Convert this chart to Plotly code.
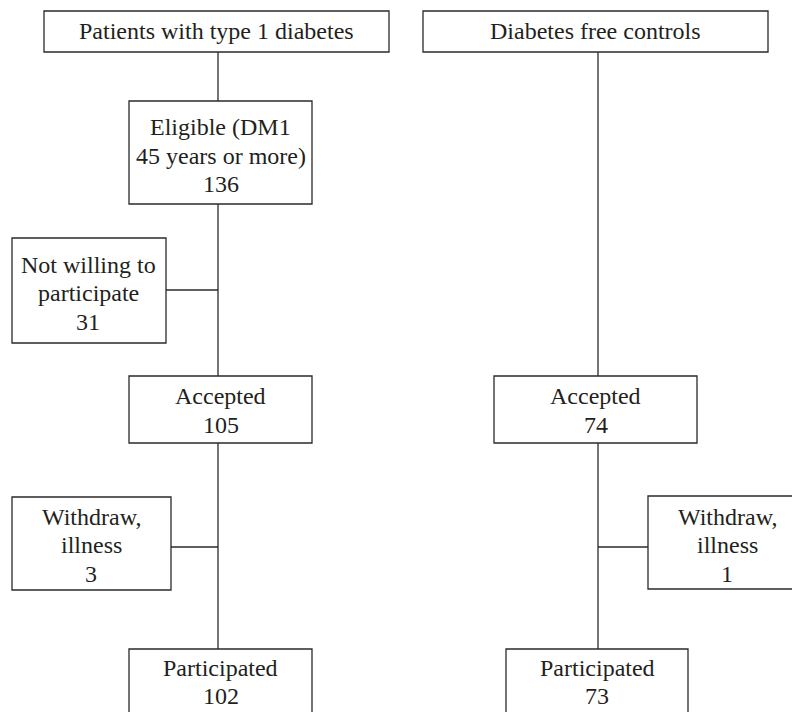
import plotly.graph_objects as go

# ---- data ----
node_ids = ["dm1", "ctrl", "eligible", "notwilling", "acc_dm1", "acc_ctrl",
            "wd_dm1", "wd_ctrl", "part_dm1", "part_ctrl"]
node_labels = ["Patients with type 1 diabetes", "Diabetes free controls",
               "Eligible (DM1<br>45 years or more)", "Not willing to<br>participate",
               "Accepted", "Accepted", "Withdraw,<br>illness", "Withdraw,<br>illness",
               "Participated", "Participated"]
node_counts = [None, None, 136, 31, 105, 74, 3, 1, 102, 73]

# ---- layout geometry (page pixel canvas 800x712; page body has an 8px margin) ----
W, H = 800, 712
OFF = 8
boxes = {  # x0, x1, y0, y1
    "dm1": (44, 389, 11, 52),
    "ctrl": (423, 768, 11, 52),
    "eligible": (129, 312, 101, 204),
    "notwilling": (12, 166, 238, 343),
    "acc_dm1": (129, 312, 376, 443),
    "acc_ctrl": (494, 697, 376, 443),
    "wd_dm1": (12, 171, 497, 590),
    "wd_ctrl": (648, 808, 496, 589),
    "part_dm1": (129, 312, 649, 760),
    "part_ctrl": (506, 688, 649, 760),
}
# text centre (x, first-line y)
text_pos = {
    "dm1": (216, 31),
    "ctrl": (595.5, 31),
    "eligible": (220.5, 127),
    "notwilling": (88, 264.5),
    "acc_dm1": (220.5, 396),
    "acc_ctrl": (595.5, 396),
    "wd_dm1": (91, 516.5),
    "wd_ctrl": (727, 516.5),
    "part_dm1": (220.5, 667.5),
    "part_ctrl": (597, 667.5),
}
line_gap = 28.5
connectors = [  # x0, y0, x1, y1
    (218, 52, 218, 101), (218, 204, 218, 376), (218, 443, 218, 649),
    (598, 52, 598, 376), (598, 443, 598, 649),
    (166, 290, 218, 290), (171, 547, 218, 547), (598, 547, 648, 547),
]
ink = "#2a2a2a"
font = dict(family="Liberation Serif, Times New Roman, serif", size=24, color="#231f20")

fig = go.Figure()
fig.add_trace(go.Scatter(x=[OFF, W], y=[OFF, H], mode="markers",
                         marker=dict(opacity=0), hoverinfo="skip", showlegend=False))

shapes = []
for nid in node_ids:
    x0, x1, y0, y1 = boxes[nid]
    shapes.append(dict(type="rect", xref="x", yref="y", x0=x0, x1=x1, y0=y0, y1=y1,
                       line=dict(color=ink, width=1.3), fillcolor="rgba(0,0,0,0)"))
for (x0, y0, x1, y1) in connectors:
    shapes.append(dict(type="line", xref="x", yref="y", x0=x0, y0=y0, x1=x1, y1=y1,
                       line=dict(color=ink, width=1.3)))

annotations = []
for nid, lab, cnt in zip(node_ids, node_labels, node_counts):
    lines = lab.split("<br>")
    if cnt is not None:
        lines.append(str(cnt))
    cx, cy = text_pos[nid]
    for i, ln in enumerate(lines):
        annotations.append(dict(x=cx, y=cy + i * line_gap, xref="x", yref="y", text=ln,
                                showarrow=False, xanchor="center", yanchor="middle",
                                font=font))

fig.update_layout(
    width=W - OFF, height=H - OFF, margin=dict(l=0, r=0, t=0, b=0),
    paper_bgcolor="white", plot_bgcolor="white",
    xaxis=dict(range=[OFF, W], visible=False, fixedrange=True),
    yaxis=dict(range=[H, OFF], visible=False, fixedrange=True),
    shapes=shapes, annotations=annotations, showlegend=False,
)
fig.write_html("out.html")
